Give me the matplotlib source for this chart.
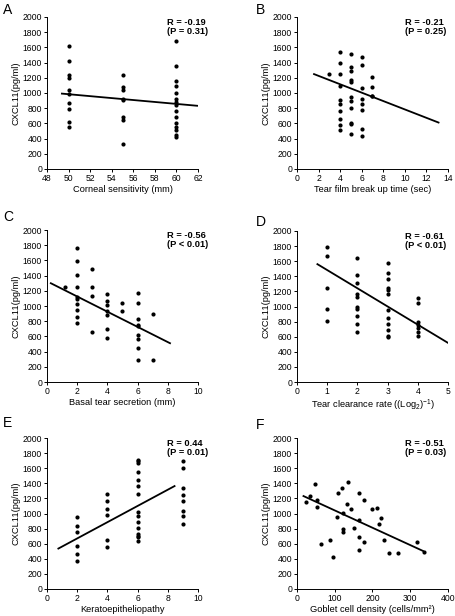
import numpy as np
import matplotlib
matplotlib.use('Agg')
import matplotlib.pyplot as plt

plt.rcParams['font.family'] = ['Liberation Sans Narrow', 'Liberation Sans', 'DejaVu Sans']
plt.rcParams['mathtext.default'] = 'regular'

# panel A: corneal sensitivity
a_x = [50]*10 + [55]*8 + [60]*15
a_y = [1613, 1424, 1240, 1196, 1042, 985, 866, 791, 624, 554,
       1240, 1077, 1042, 923, 910, 690, 646, 330,
       1680, 1350, 1160, 1086, 998, 923, 888, 844, 765, 681, 602, 558, 514, 448, 426]
a_fit_x = [49.3, 62]
a_fit_y = [993, 831]

# panel B: tear film break up time
b_x = [3] + [4]*10 + [5]*11 + [6]*8 + [7]*4
b_y = [1253,
       1538, 1393, 1253, 1095, 910, 853, 765, 659, 580, 514,
       1512, 1341, 1284, 1174, 1147, 945, 897, 800, 602, 589, 462,
       1468, 1363, 1064, 919, 853, 778, 527, 440,
       1204, 1081, 967, 954]
b_fit_x = [1.5, 13.2]
b_fit_y = [1253, 607]

# panel C: basal tear secretion
c_x = [1.2] + [2]*10 + [3]*4 + [4]*7 + [5]*2 + [6]*9 + [7]*2
c_y = [1253,
       1767, 1591, 1407, 1253, 1121, 1095, 1024, 945, 857, 782,
       1481, 1253, 1138, 659,
       1156, 1064, 1011, 936, 879, 703, 585,
       1033, 936,
       1174, 1042, 835, 747, 734, 615, 571, 453, 295,
       901, 295]
c_fit_x = [0.2, 8.2]
c_fit_y = [1305, 505]

# panel D: tear clearance rate
d_x = [1]*5 + [2]*10 + [3]*12 + [4]*7
d_y = [1788, 1664, 1250, 967, 812,
       1647, 1413, 1311, 1161, 1126, 993, 971, 874, 773, 662,
       1576, 1444, 1360, 1250, 1223, 1161, 949, 848, 764, 684, 605, 596,
       1113, 1046, 790, 750, 720, 662, 605]
d_fit_x = [0.65, 5.1]
d_fit_y = [1567, 494]

# panel E: keratoepitheliopathy
e_x = [2]*6 + [4]*6 + [6]*15 + [9]*8
e_y = [949, 830, 755, 574, 464, 366,
       1258, 1161, 1060, 976, 653, 552,
       1713, 1691, 1669, 1550, 1439, 1369, 1263, 1020, 962, 887, 808, 733, 706, 684, 631,
       1691, 1603, 1338, 1241, 1161, 1038, 962, 861]
e_fit_x = [0.7, 8.5]
e_fit_y = [530, 1369]

# panel F: goblet cell density
f_x = [23, 34, 49, 53, 53, 64, 87, 96, 109, 105, 120, 122, 122, 122, 135, 133, 144,
       150, 164, 164, 164, 164, 177, 177, 200, 212, 216, 223, 230, 245, 268, 317, 336]
f_y = [1148, 1227, 1395, 1183, 1086, 596, 653, 428, 1272, 954, 1333, 1002, 795, 751,
       1413, 1130, 1060, 808, 1276, 909, 693, 516, 1174, 618, 1064, 1073, 861, 936,
       653, 472, 472, 627, 494]
f_fit_x = [15, 336]
f_fit_y = [1236, 499]

panels = [
    ('A', a_x, a_y, a_fit_x, a_fit_y, (48, 62), np.arange(48, 63, 2), 'Corneal sensitivity (mm)', 'R = -0.19\n(P = 0.31)'),
    ('B', b_x, b_y, b_fit_x, b_fit_y, (0, 14), np.arange(0, 15, 2), 'Tear film break up time (sec)', 'R = -0.21\n(P = 0.25)'),
    ('C', c_x, c_y, c_fit_x, c_fit_y, (0, 10), np.arange(0, 11, 2), 'Basal tear secretion (mm)', 'R = -0.56\n(P < 0.01)'),
    ('D', d_x, d_y, d_fit_x, d_fit_y, (0, 5), np.arange(0, 6, 1), 'Tear clearance rate ((Log$_2$)$^{-1}$)', 'R = -0.61\n(P < 0.01)'),
    ('E', e_x, e_y, e_fit_x, e_fit_y, (0, 10), np.arange(0, 11, 2), 'Keratoepitheliopathy', 'R = 0.44\n(P = 0.01)'),
    ('F', f_x, f_y, f_fit_x, f_fit_y, (0, 400), np.arange(0, 401, 100), 'Goblet cell density (cells/mm\u00b2)', 'R = -0.51\n(P = 0.03)'),
]

W, H = 456, 616
fig = plt.figure(figsize=(W/100, H/100), dpi=100)

# axes boxes in pixels: left, top, right, bottom
boxes = [(47, 17, 198, 169), (297, 17, 448, 169),
         (47, 230, 198, 382), (297, 231, 448, 382),
         (47, 438, 198, 589), (297, 438, 448, 589)]
letter_pos = [(3, 3), (256, 3), (3, 210), (256, 215), (3, 416), (256, 418)]
text_x = [0.795, 0.715, 0.795, 0.715, 0.795, 0.715]

for i, (lab, xs, ys, fx, fy, xl, xt, xlab, rtxt) in enumerate(panels):
    l, t, r, b = boxes[i]
    ax = fig.add_axes([l/W, 1-b/H, (r-l)/W, (b-t)/H])
    ax.plot(xs, ys, 'o', color='black', markersize=3.0, markeredgewidth=0)
    ax.plot(fx, fy, '-', color='black', linewidth=1.3, solid_capstyle='butt')
    ax.set_xlim(xl)
    ax.set_ylim(0, 2000)
    ax.set_xticks(xt)
    ax.set_yticks(np.arange(0, 2001, 200))
    for s in ['top', 'right']:
        ax.spines[s].set_visible(False)
    for s in ['left', 'bottom']:
        ax.spines[s].set_linewidth(0.7)
    ax.tick_params(labelsize=6.2, length=2, width=0.7, pad=1.5)
    ax.set_xlabel(xlab, fontsize=6.7, labelpad=1.5)
    ax.set_ylabel('CXCL11(pg/ml)', fontsize=6.7, labelpad=1.5)
    ax.text(text_x[i], 0.995, rtxt, transform=ax.transAxes, fontsize=6.7,
            fontweight='bold', ha='left', va='top', linespacing=1.1)
    lx, ly = letter_pos[i]
    fig.text(lx/W, 1-ly/H, lab, fontsize=10, ha='left', va='top')

fig.savefig('out.png', dpi=100)
